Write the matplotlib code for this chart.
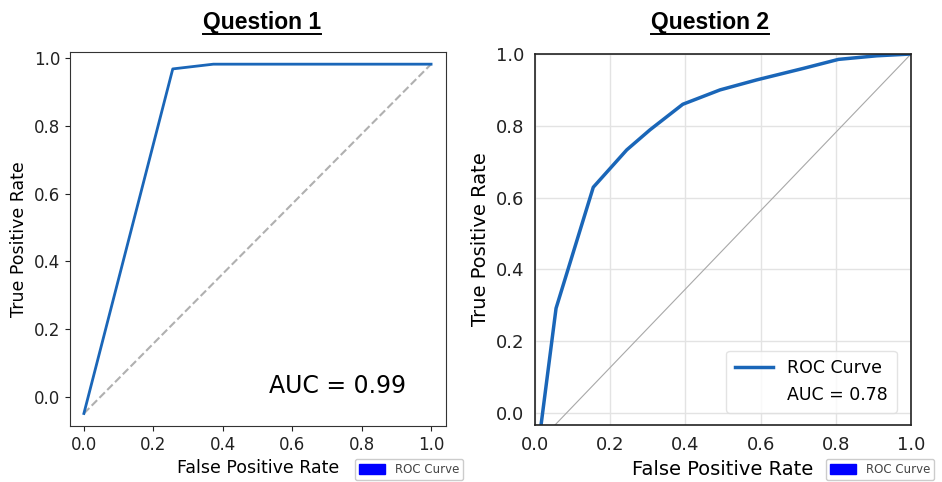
import numpy as np
from matplotlib import pyplot as plt
from matplotlib.patches import Patch
from matplotlib.lines import Line2D

# Question 1 ROC points
fpr1 = [0.0, 0.256, 0.373, 1.0]
tpr1 = [-0.05, 0.969, 0.983, 0.983]
chance1 = [[0.0, 1.0], [-0.05, 0.983]]
auc1 = 0.99

# Question 2 ROC points
fpr2 = [0.014, 0.056, 0.155, 0.244, 0.306, 0.393, 0.492, 0.590, 0.714, 0.807, 0.909, 1.0]
tpr2 = [-0.05, 0.292, 0.629, 0.733, 0.789, 0.860, 0.900, 0.928, 0.960, 0.985, 0.995, 1.0]
chance2 = [[0.0, 1.0], [-0.091, 1.0]]
auc2 = 0.78

ticks = [0.0, 0.2, 0.4, 0.6, 0.8, 1.0]
roc_color = "#1a66b8"

W, H = 942, 482
fig = plt.figure(figsize=(W / 100, H / 100), dpi=100)


def box(x0, y0, x1, y1):
    # pixel box (top-left origin) -> figure fraction
    return [x0 / W, 1 - y1 / H, (x1 - x0) / W, (y1 - y0) / H]


def underlined_title(x, y, s):
    t = fig.text(x / W, 1 - y / H, s, ha="center", va="center",
                 fontsize=16.5, fontweight="bold", family="Liberation Sans")
    fig.canvas.draw()
    bb = t.get_window_extent().transformed(fig.transFigure.inverted())
    yl = bb.y0 - 0.002
    fig.add_artist(Line2D([bb.x0, bb.x1], [yl, yl], color="black", lw=1.4,
                          transform=fig.transFigure))


def small_legend(x, y):
    fig.legend(handles=[Patch(color="#0000ff", label="ROC Curve")],
               loc="upper left", bbox_to_anchor=(x / W, 1 - y / H),
               borderaxespad=0, fontsize=8.5, handlelength=2.2, handleheight=0.9,
               handletextpad=0.8, borderpad=0.35, fancybox=True, framealpha=1,
               edgecolor="#cccccc", labelcolor="#444444")


# left panel
ax1 = fig.add_axes(box(70, 52, 446, 426))
ax1.plot(chance1[0], chance1[1], color="#b0b0b0", ls="--", lw=1.5)
ax1.plot(fpr1, tpr1, color=roc_color, lw=2)
ax1.set_xlim(-0.04, 1.043)
ax1.set_ylim(-0.087, 1.019)
ax1.set_xticks(ticks)
ax1.set_yticks(ticks)
ax1.tick_params(labelsize=12, colors="#222222")
for s in ax1.spines.values():
    s.set_color("#333333")
ax1.set_xlabel("False Positive Rate", fontsize=12.5)
ax1.set_ylabel("True Positive Rate", fontsize=12.5)
ax1.text(0.73, 0.03, "AUC = %.2f" % auc1, ha="center", va="center",
         fontsize=17, transform=ax1.transData)

# right panel
ax2 = fig.add_axes(box(535, 54, 911, 425))
ax2.grid(True, color="#e3e3e3", lw=1)
ax2.set_axisbelow(True)
ax2.plot(chance2[0], chance2[1], color="#a8a8a8", lw=0.8)
ax2.plot(fpr2, tpr2, color=roc_color, lw=2.5, label="ROC Curve")
ax2.plot([], [], ls="none", label="AUC = %.2f" % auc2)
ax2.set_xlim(0, 1.0)
ax2.set_ylim(-0.033, 1.0)
ax2.set_xticks(ticks)
ax2.set_yticks(ticks)
ax2.tick_params(labelsize=13, length=0, pad=8, colors="#222222")
for s in ax2.spines.values():
    s.set_color("#222222")
    s.set_linewidth(1.2)
ax2.set_xlabel("False Positive Rate", fontsize=14)
ax2.set_ylabel("True Positive Rate", fontsize=14)
ax2.legend(loc="lower right", fontsize=12.5, handlelength=2.2,
           borderpad=0.5, edgecolor="#dddddd", bbox_to_anchor=(0.985, 0.01))

underlined_title(262, 22, "Question 1")
underlined_title(710, 22, "Question 2")
small_legend(355, 459)
small_legend(826, 459)

fig.savefig("out.png", dpi=100)
